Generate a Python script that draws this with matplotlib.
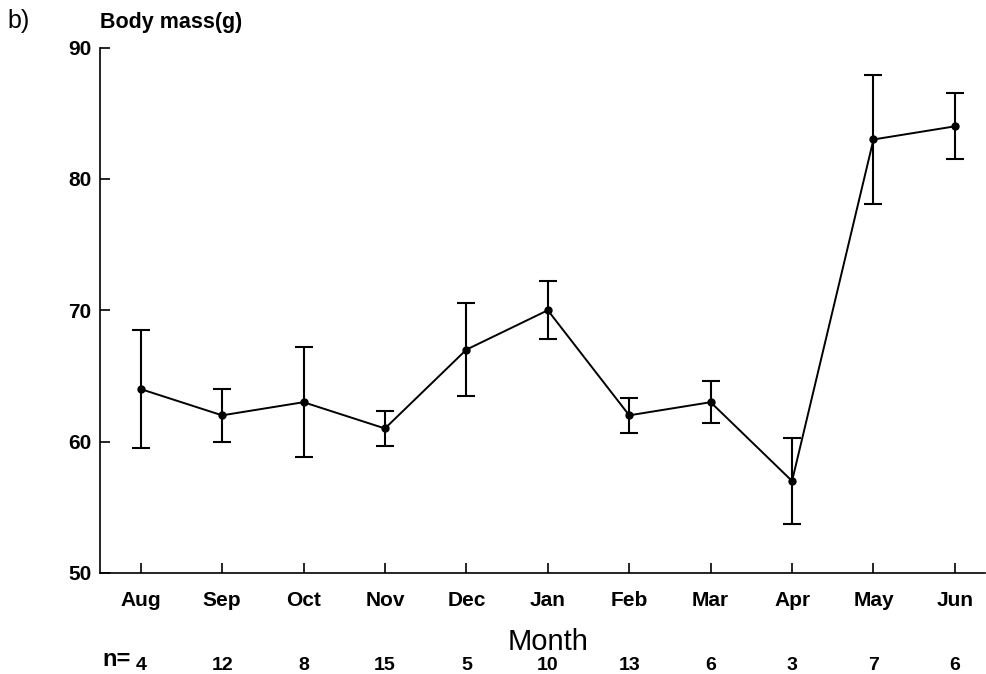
import numpy as np
import matplotlib.pyplot as plt

months = ["Aug", "Sep", "Oct", "Nov", "Dec", "Jan", "Feb", "Mar", "Apr", "May", "Jun"]
mass = [64.0, 62.0, 63.0, 61.0, 67.0, 70.0, 62.0, 63.0, 57.0, 83.0, 84.0]
err = [4.5, 2.0, 4.2, 1.3, 3.55, 2.2, 1.35, 1.6, 3.3, 4.9, 2.5]
n_counts = [4, 12, 8, 15, 5, 10, 13, 6, 3, 7, 6]
y_ticks = [50, 60, 70, 80, 90]

plt.rcParams['font.family'] = ['Liberation Sans', 'DejaVu Sans']

fig = plt.figure(figsize=(9.87, 6.74), dpi=100)
ax = fig.add_axes([0.1013, 0.1499, 0.8967, 0.7796])

x = np.arange(len(months))
ax.errorbar(x, mass, yerr=err, color='black', lw=1.4, elinewidth=1.5,
            capsize=6.5, capthick=1.5, marker='o', markersize=5)

ax.set_xlim(-0.5, 10.37)
ax.set_ylim(50, 90)
ax.set_yticks(y_ticks)
ax.set_xticks(x)
ax.set_xticklabels(months)

for s in ['top', 'right']:
    ax.spines[s].set_visible(False)
for s in ['left', 'bottom']:
    ax.spines[s].set_linewidth(1.2)

ax.tick_params(axis='both', direction='in', length=7, width=1.2, labelsize=15)
ax.tick_params(axis='x', pad=13)
ax.tick_params(axis='y', pad=6)
for lab in ax.get_xticklabels() + ax.get_yticklabels():
    lab.set_fontweight('bold')

fig.text(0.101, 0.958, "Body mass(g)", fontsize=15.5, fontweight='bold',
         ha='left', va='baseline')
fig.text(0.008, 0.958, "b)", fontsize=18, ha='left', va='baseline')
fig.text(0.555, 0.036, "Month", fontsize=21, ha='center', va='baseline')

# sample sizes under each month
fig.text(0.104, 0.012, "n=", fontsize=17, fontweight='bold', ha='left', va='baseline')
for i, n in enumerate(n_counts):
    ax.text(i, -0.185, str(n), transform=ax.get_xaxis_transform(),
            fontsize=14, fontweight='bold', ha='center', va='baseline')

fig.savefig("out.png", dpi=100)
